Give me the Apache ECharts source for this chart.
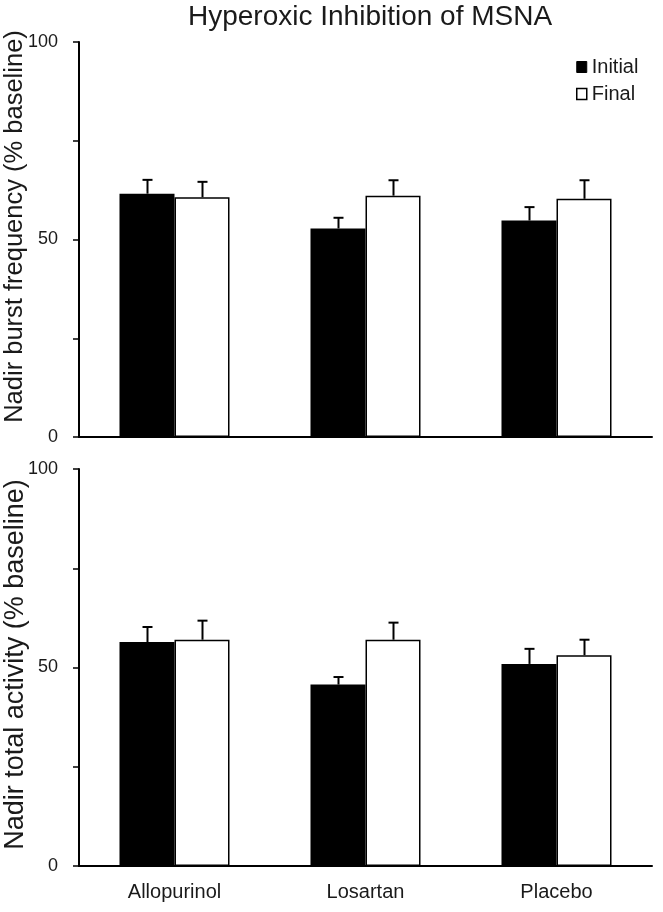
<!DOCTYPE html>
<html>
<head>
<meta charset="utf-8">
<script src="https://cdn.jsdelivr.net/npm/echarts@6/dist/echarts.min.js"></script>
<style>html,body{margin:0;padding:0;background:#fff;}#c{width:663px;height:912px;}</style>
</head>
<body>
<div id="c"></div>
<script>
const categories = ['Allopurinol', 'Losartan', 'Placebo'];
const seriesNames = ['Initial', 'Final'];
const yTickLabels = ['0', '50', '100'];
// Top panel: Nadir burst frequency
const burstInitial = [61.6, 52.8, 54.8];
const burstInitialErr = [3.5, 2.7, 3.4];
const burstFinal = [60.7, 61.1, 60.3];
const burstFinalErr = [3.9, 3.9, 4.7];
// Bottom panel: Nadir total activity
const totalInitial = [56.4, 45.7, 50.9];
const totalInitialErr = [3.8, 1.9, 3.8];
const totalFinal = [57.0, 57.0, 53.1];
const totalFinalErr = [4.8, 4.3, 3.9];

const BAR_FRAC = 0.288;
const FONT = 'Liberation Sans, Arial, sans-serif';
const TXT = '#1a1a1a';

function errSeries(vals, errs, side, gi) {
  return {
    type: 'custom', xAxisIndex: gi, yAxisIndex: gi, z: 5, silent: true,
    data: vals.map((v, i) => [i, v, v + errs[i]]),
    encode: { x: 0, y: 1 },
    renderItem: function (params, api) {
      const x = api.value(0), v = api.value(1), t = api.value(2);
      const p0 = api.coord([x, v]);
      const p1 = api.coord([x, t]);
      const bw = api.size([1, 0])[0] * BAR_FRAC;
      const cx = Math.round(p0[0] + side * bw / 2) + 0.5;
      const st = { stroke: '#000', lineWidth: 2 };
      return { type: 'group', children: [
        { type: 'line', shape: { x1: cx, y1: p0[1], x2: cx, y2: p1[1] }, style: st },
        { type: 'line', shape: { x1: cx - 5, y1: p1[1], x2: cx + 5, y2: p1[1] }, style: st }
      ]};
    }
  };
}

function yAxis(gi, name, fs, shift, gap) {
  return {
    gridIndex: gi, type: 'value', min: 0, max: 100, interval: 25,
    name: name, nameLocation: 'middle', nameRotate: 90, nameGap: gap, nameMoveOverlap: false,
    nameTextStyle: { fontFamily: FONT, fontSize: fs, color: TXT, padding: [0, 0, 0, shift] },
    axisLine: { show: true, lineStyle: { color: '#000', width: 2 } },
    axisTick: { show: true, inside: false, length: 6, lineStyle: { color: '#000', width: 1.5 } },
    splitLine: { show: false },
    axisLabel: {
      margin: 21, fontFamily: FONT, fontSize: 18, color: TXT,
      formatter: function (v) { const s = String(v); return yTickLabels.indexOf(s) >= 0 ? s : ''; }
    }
  };
}

function xAxis(gi, showLabels) {
  return {
    gridIndex: gi, type: 'category', data: categories,
    axisLine: { show: true, lineStyle: { color: '#000', width: 2 } },
    axisTick: { show: false },
    axisLabel: { show: showLabels, margin: 16, fontFamily: FONT, fontSize: 20, color: TXT }
  };
}

function bars(name, vals, gi, fill) {
  return {
    type: 'bar', name: name, xAxisIndex: gi, yAxisIndex: gi, data: vals,
    barWidth: (BAR_FRAC * 100) + '%', barGap: '0%',
    itemStyle: { color: fill, borderColor: '#000', borderWidth: 1.5 },
    silent: true
  };
}

const chart = echarts.init(document.getElementById('c'), null, { renderer: 'canvas' });
chart.setOption({
  animation: false,
  backgroundColor: '#fff',
  title: {
    text: 'Hyperoxic Inhibition of MSNA', left: 188, top: 3, padding: 0,
    textStyle: { fontFamily: FONT, fontSize: 28, fontWeight: 'normal', color: TXT }
  },
  legend: {
    orient: 'vertical', left: 576, top: 57, itemWidth: 10, itemHeight: 11, itemGap: 7,
    padding: 0,
    textStyle: { fontFamily: FONT, fontSize: 20, color: TXT },
    data: [
      { name: 'Initial', icon: 'rect', itemStyle: { color: '#000', borderColor: '#000', borderWidth: 1 } },
      { name: 'Final', icon: 'rect', itemStyle: { color: '#fff', borderColor: '#000', borderWidth: 1.5 } }
    ]
  },
  grid: [
    { left: 79, right: 11, top: 42, height: 395, outerBoundsMode: 'none' },
    { left: 79, right: 11, top: 469, height: 397, outerBoundsMode: 'none' }
  ],
  xAxis: [xAxis(0, false), xAxis(1, true)],
  yAxis: [
    yAxis(0, 'Nadir burst frequency (% baseline)', 25.5, 26, 51),
    yAxis(1, 'Nadir total activity (% baseline)', 27, 6, 50)
  ],
  series: [
    bars(seriesNames[0], burstInitial, 0, '#000'),
    bars(seriesNames[1], burstFinal, 0, '#fff'),
    bars(seriesNames[0], totalInitial, 1, '#000'),
    bars(seriesNames[1], totalFinal, 1, '#fff'),
    errSeries(burstInitial, burstInitialErr, -1, 0),
    errSeries(burstFinal, burstFinalErr, 1, 0),
    errSeries(totalInitial, totalInitialErr, -1, 1),
    errSeries(totalFinal, totalFinalErr, 1, 1)
  ]
});
</script>
</body>
</html>
